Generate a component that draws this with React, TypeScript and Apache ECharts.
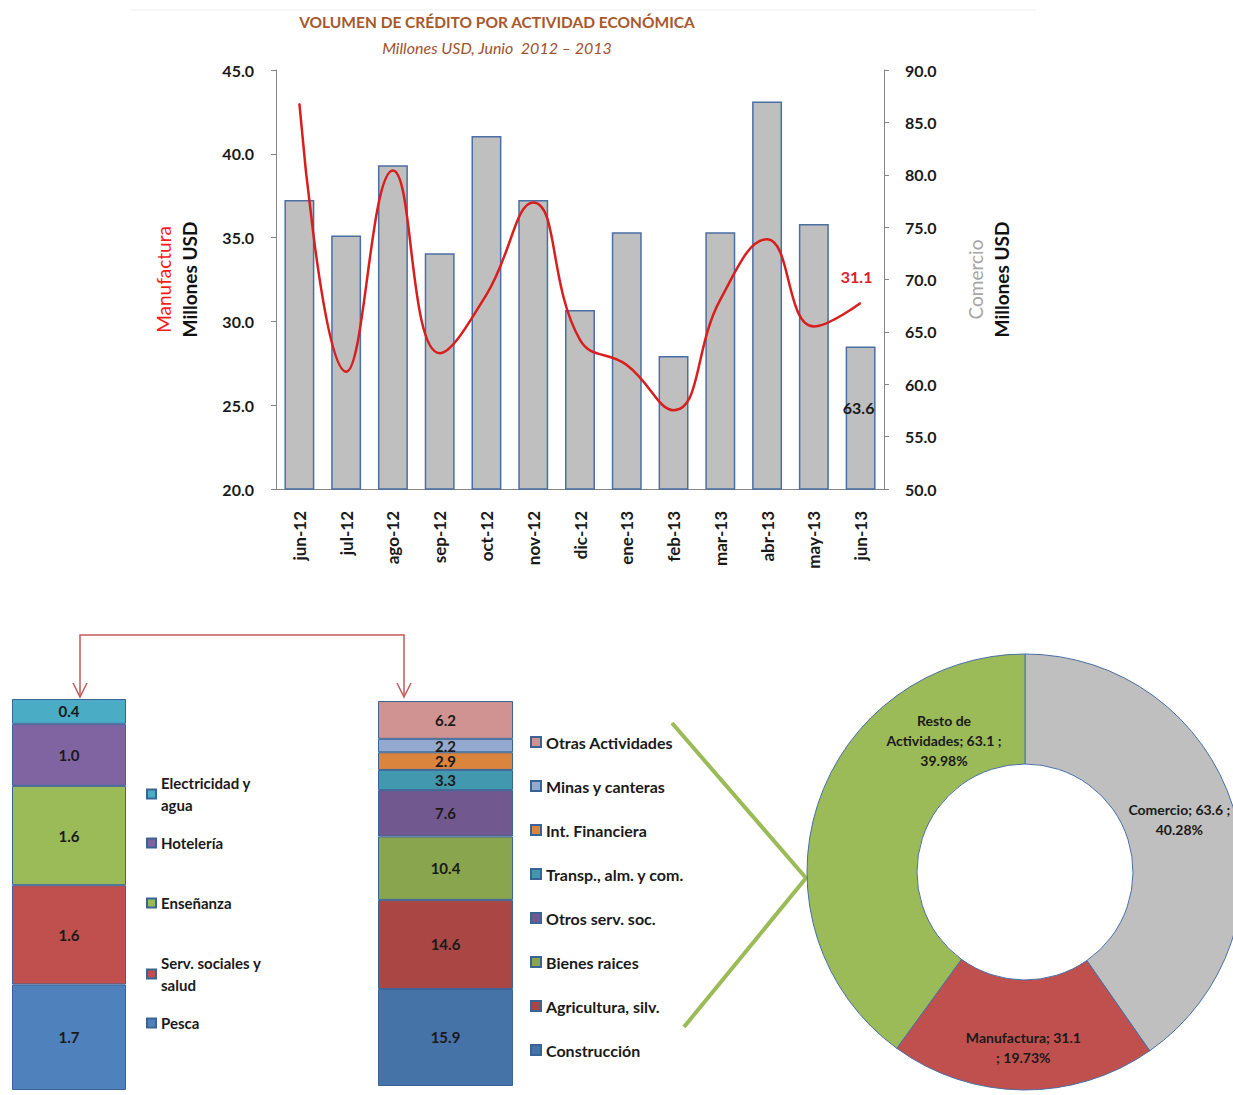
import React, { useEffect, useRef } from "react";
import * as echarts from "echarts";

// Monthly credit volume, June 2012 – June 2013
const months = ["jun-12", "jul-12", "ago-12", "sep-12", "oct-12", "nov-12", "dic-12", "ene-13", "feb-13", "mar-13", "abr-13", "may-13", "jun-13"];
const comercio = [77.6, 74.2, 80.9, 72.5, 83.7, 77.6, 67.1, 74.5, 62.7, 74.5, 87.0, 75.3, 63.6];
const manufactura = [43.0, 27.0, 39.0, 28.1, 31.6, 37.1, 28.9, 27.4, 24.7, 31.3, 34.9, 29.7, 31.1];

// Small activities (bottom to top)
const smallNames = ["Pesca", "Serv. sociales y salud", "Enseñanza", "Hotelería", "Electricidad y agua"];
const smallValues = [1.7, 1.6, 1.6, 1.0, 0.4];
const smallColors = ["#4F81BD", "#C0504D", "#9BBB59", "#8064A2", "#4BACC6"];

// Rest of activities (bottom to top)
const restNames = ["Construcción", "Agricultura, silv.", "Bienes raices", "Otros serv. soc.", "Transp., alm. y com.", "Int. Financiera", "Minas y canteras", "Otras Actividades"];
const restValues = [15.9, 14.6, 10.4, 7.6, 3.3, 2.9, 2.2, 6.2];
const restColors = ["#4572A7", "#AA4643", "#89A54E", "#71588F", "#4198AF", "#DB843D", "#93A9CF", "#D19392"];

// June 2013 split
const pieNames = ["Comercio", "Manufactura", "Resto de Actividades"];
const pieValues = [63.6, 31.1, 63.1];
const pieShares = ["40.28", "19.73", "39.98"];
const pieColors = ["#BFBFBF", "#C0504D", "#9BBB59"];

const FONT = "Lato, 'Open Sans', sans-serif";
const AXIS_GRAY = "#868686";

const sum = (a: number[]) => a.reduce((s, v) => s + v, 0);

function buildOption(): any {
  const smallTotal = Math.round(sum(smallValues) * 10) / 10;
  const restTotal = Math.round(sum(restValues) * 10) / 10;

  const segLabel = {
    show: true,
    position: "inside",
    color: "#1a1a1a",
    fontFamily: FONT,
    fontWeight: "bold",
    fontSize: 15,
    formatter: (p: any) => Number(p.value).toFixed(1),
  };

  const smallSeries = smallNames.map((n, i) => ({
    name: n,
    type: "bar",
    xAxisIndex: 1,
    yAxisIndex: 2,
    stack: "small",
    barWidth: "100%",
    data: [smallValues[i]],
    itemStyle: { color: smallColors[i], borderColor: "#3B6496", borderWidth: 1 },
    label: segLabel,
  }));

  const restSeries = restNames.map((n, i) => ({
    name: n,
    type: "bar",
    xAxisIndex: 2,
    yAxisIndex: 3,
    stack: "rest",
    barWidth: "100%",
    data: [restValues[i]],
    itemStyle: { color: restColors[i], borderColor: "#3B6496", borderWidth: 1 },
    label: segLabel,
  }));

  const legendText = { fontFamily: FONT, fontWeight: "bold", fontSize: 15, color: "#1a1a1a", lineHeight: 22 };
  const smallLegendTops = [767, 827, 887, 947, 1007];
  const smallLegends = smallNames
    .slice()
    .reverse()
    .map((n, i) => ({
      data: [n],
      orient: "vertical",
      left: 141,
      top: smallLegendTops[i],
      icon: "rect",
      itemWidth: 9,
      itemHeight: 9,
      itemGap: 0,
      textStyle: legendText,
      formatter: (name: string) =>
        name === "Electricidad y agua" ? "Electricidad y\nagua" : name === "Serv. sociales y salud" ? "Serv. sociales y\nsalud" : name,
      selectedMode: false,
    }));

  return {
    animation: false,
    backgroundColor: "#ffffff",
    textStyle: { fontFamily: FONT },
    graphic: [
      { type: "line", shape: { x1: 130, y1: 10, x2: 1036, y2: 10 }, style: { stroke: "#eeeeee", lineWidth: 1 } },
      {
        type: "text",
        x: 497,
        y: 22,
        style: { text: "VOLUMEN DE CRÉDITO POR ACTIVIDAD ECONÓMICA", fill: "#A8582A", font: `bold 15.5px ${FONT}`, textAlign: "center", textVerticalAlign: "middle" },
      },
      {
        type: "text",
        x: 497,
        y: 47,
        style: { text: "Millones USD, Junio  2012 – 2013", fill: "#A0522D", font: `italic 16px ${FONT}`, textAlign: "center", textVerticalAlign: "middle" },
      },
      // connector between the two stacked columns
      { type: "polyline", shape: { points: [[80, 695], [80, 635], [404, 635], [404, 695]] }, style: { stroke: "#C55A5A", lineWidth: 1.5, fill: null } },
      { type: "polyline", shape: { points: [[73, 683], [80, 697], [87, 683]] }, style: { stroke: "#C55A5A", lineWidth: 1.5, fill: null } },
      { type: "polyline", shape: { points: [[397, 683], [404, 697], [411, 683]] }, style: { stroke: "#C55A5A", lineWidth: 1.5, fill: null } },
      // chevron towards the donut
      { type: "polyline", shape: { points: [[672, 723], [806, 878], [684, 1027]] }, style: { stroke: "#9BBB59", lineWidth: 4, fill: null } },
    ],
    grid: [
      { left: 276, right: 349, top: 70, bottom: 606 },
      { left: 12, width: 114, top: 699, bottom: 5 },
      { left: 378, width: 135, top: 701, bottom: 9 },
    ],
    xAxis: [
      {
        type: "category",
        gridIndex: 0,
        data: months,
        axisLine: { lineStyle: { color: AXIS_GRAY } },
        axisTick: { length: 6, lineStyle: { color: AXIS_GRAY } },
        axisLabel: { rotate: 90, margin: 22, color: "#1a1a1a", fontWeight: "bold", fontSize: 17, fontFamily: FONT },
      },
      { type: "category", gridIndex: 1, data: ["a"], show: false },
      { type: "category", gridIndex: 2, data: ["a"], show: false },
    ],
    yAxis: [
      {
        type: "value",
        gridIndex: 0,
        min: 20,
        max: 45,
        interval: 5,
        splitLine: { show: false },
        axisLine: { show: true, lineStyle: { color: AXIS_GRAY } },
        axisTick: { show: true, length: 5, lineStyle: { color: AXIS_GRAY } },
        axisLabel: { margin: 22, color: "#1a1a1a", fontWeight: "bold", fontSize: 16, fontFamily: FONT, formatter: (v: number) => v.toFixed(1) },
        name: "{a|Manufactura}\n{b|Millones USD}",
        nameLocation: "middle",
        nameRotate: 90,
        nameGap: 74,
        nameTextStyle: {
          rich: {
            a: { color: "#FF1A1A", fontSize: 19, fontFamily: FONT, lineHeight: 26 },
            b: { color: "#111111", fontSize: 19, fontWeight: "bold", fontFamily: FONT, lineHeight: 26 },
          },
        },
      },
      {
        type: "value",
        gridIndex: 0,
        position: "right",
        min: 50,
        max: 90,
        interval: 5,
        splitLine: { show: false },
        axisLine: { show: true, lineStyle: { color: AXIS_GRAY } },
        axisTick: { show: true, length: 5, lineStyle: { color: AXIS_GRAY } },
        axisLabel: { margin: 21, color: "#1a1a1a", fontWeight: "bold", fontSize: 16, fontFamily: FONT, formatter: (v: number) => v.toFixed(1) },
        name: "{a|Comercio}\n{b|Millones USD}",
        nameLocation: "middle",
        nameRotate: 90,
        nameGap: 78,
        nameTextStyle: {
          rich: {
            a: { color: "#A6A6A6", fontSize: 19, fontFamily: FONT, lineHeight: 26 },
            b: { color: "#111111", fontSize: 19, fontWeight: "bold", fontFamily: FONT, lineHeight: 26 },
          },
        },
      },
      { type: "value", gridIndex: 1, min: 0, max: smallTotal, show: false },
      { type: "value", gridIndex: 2, min: 0, max: restTotal, show: false },
    ],
    legend: [
      ...smallLegends,
      {
        data: restNames.slice().reverse(),
        orient: "vertical",
        left: 525,
        top: 726,
        icon: "rect",
        itemWidth: 10,
        itemHeight: 10,
        itemGap: 22,
        textStyle: { ...legendText, fontSize: 16 },
        selectedMode: false,
      },
    ],
    series: [
      {
        name: "Comercio",
        type: "bar",
        xAxisIndex: 0,
        yAxisIndex: 1,
        barWidth: "64%",
        itemStyle: { color: "#BFBFBF", borderColor: "#4A6FA5", borderWidth: 1.5 },
        data: comercio.map((v, i) =>
          i === comercio.length - 1
            ? { value: v, label: { show: true, position: "inside", offset: [-2, -11], color: "#1a1a1a", fontWeight: "bold", fontSize: 16, fontFamily: FONT } }
            : v
        ),
        z: 2,
      },
      {
        name: "Manufactura",
        type: "line",
        xAxisIndex: 0,
        yAxisIndex: 0,
        smooth: 0.45,
        symbol: "circle",
        symbolSize: 1,
        showSymbol: true,
        lineStyle: { color: "#D91E1E", width: 2.5 },
        itemStyle: { color: "#D91E1E" },
        data: manufactura.map((v, i) =>
          i === manufactura.length - 1
            ? { value: v, label: { show: true, position: "top", distance: 18, offset: [-4, 0], color: "#E0202A", fontWeight: "bold", fontSize: 16, fontFamily: FONT } }
            : v
        ),
        z: 3,
      },
      ...smallSeries,
      ...restSeries,
      {
        name: "Junio 2013",
        type: "pie",
        center: [1025, 872],
        radius: [108, 218],
        startAngle: 90,
        clockwise: true,
        itemStyle: { borderColor: "#4A6FA5", borderWidth: 1 },
        label: {
          show: true,
          position: "inside",
          color: "#1a1a1a",
          fontWeight: "bold",
          fontSize: 14,
          lineHeight: 20,
          fontFamily: FONT,
          formatter: (p: any) => {
            const s = pieShares[p.dataIndex];
            if (p.dataIndex === 0) return `${p.name}; ${p.value} ;\n${s}%`;
            if (p.dataIndex === 1) return `${p.name}; ${p.value}\n; ${s}%`;
            return `Resto de\nActividades; ${p.value} ;\n${s}%`;
          },
        },
        labelLayout: (p: any) =>
          p.dataIndex === 2
            ? { x: 944, y: 740, align: "center", verticalAlign: "middle" }
            : p.dataIndex === 1
            ? { dy: 10 }
            : { dx: -4, dy: -3 },
        labelLine: { show: false },
        data: pieNames.map((n, i) => ({ name: n, value: pieValues[i], itemStyle: { color: pieColors[i] } })),
      },
    ],
  };
}

export default function App() {
  const ref = useRef<HTMLDivElement>(null);
  useEffect(() => {
    if (!ref.current) return;
    const chart = echarts.init(ref.current, undefined, { renderer: "svg" });
    chart.setOption(buildOption());
    return () => chart.dispose();
  }, []);
  return <div ref={ref} style={{ position: "absolute", left: 0, top: 0, width: 1233, height: 1095 }} />;
}
